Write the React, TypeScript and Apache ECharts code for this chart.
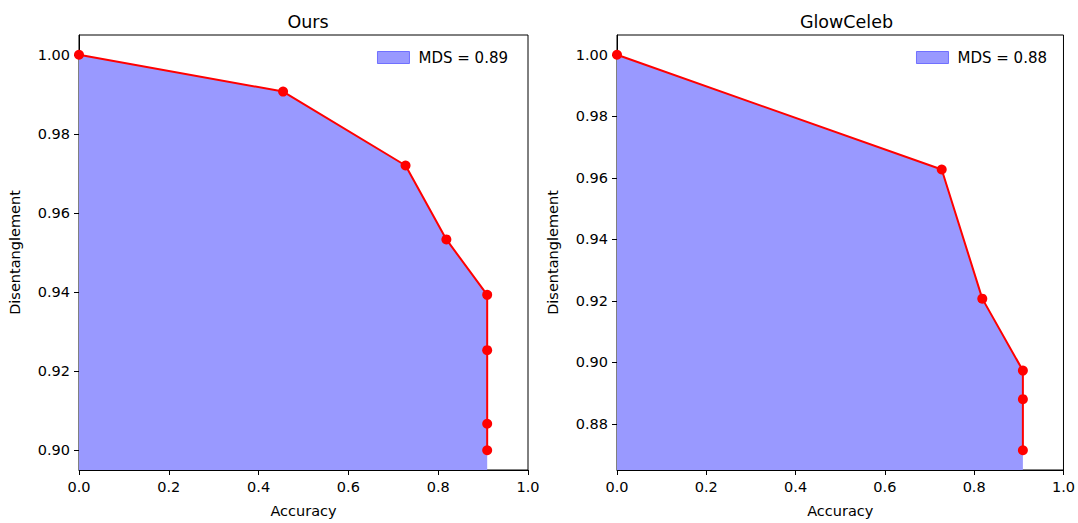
import React, { useEffect, useRef } from "react";
import * as echarts from "echarts";

const titles = ["Ours", "GlowCeleb"];
const legendNames = ["MDS = 0.89", "MDS = 0.88"];
const oursX = [0, 0.4545, 0.7273, 0.8182, 0.9091, 0.9091, 0.9091, 0.9091];
const oursY = [1.0, 0.9907, 0.972, 0.9533, 0.9393, 0.9253, 0.9067, 0.9];
const glowX = [0, 0.7273, 0.8182, 0.9091, 0.9091, 0.9091];
const glowY = [1.0, 0.9627, 0.9207, 0.8973, 0.888, 0.8714];
const xTicks = [0, 0.2, 0.4, 0.6, 0.8, 1.0];
const oursYTicks = [0.9, 0.92, 0.94, 0.96, 0.98, 1.0];
const glowYTicks = [0.88, 0.9, 0.92, 0.94, 0.96, 0.98, 1.0];

const FONT = "DejaVu Sans";
const FS = 14.5;

function pairs(xs: number[], ys: number[]) {
  return xs.map((x, i) => [x, ys[i]]);
}

function yRange(ys: number[]) {
  const lo = Math.min(...ys);
  const hi = Math.max(...ys);
  const m = (hi - lo) * 0.05;
  return [lo - m, hi + m];
}

export default function App() {
  const ref = useRef<HTMLDivElement>(null);
  useEffect(() => {
    if (!ref.current) return;
    const chart = echarts.init(ref.current, null, { renderer: "svg" });
    const grids = [
      { left: 79, right: 550, top: 35, bottom: 51 },
      { left: 617, right: 12, top: 35, bottom: 51 },
    ];
    const ranges = [yRange(oursY), yRange(glowY)];
    const yTickSets = [oursYTicks, glowYTicks];
    const datas = [pairs(oursX, oursY), pairs(glowX, glowY)];
    const centers = [303, 841.5];

    const option: any = {
      animation: false,
      backgroundColor: "#ffffff",
      title: titles.map((t, i) => ({
        text: t,
        left: centers[i],
        top: 8,
        textAlign: "center",
        textStyle: { fontFamily: FONT, fontSize: 17.5, fontWeight: "normal", color: "#000" },
      })),
      grid: grids.map((g) => ({
        ...g,
        show: true,
        borderColor: "#000",
        borderWidth: 1,
        backgroundColor: "transparent",
      })),
      legend: legendNames.map((n, i) => ({
        gridIndex: i,
        data: [
          {
            name: n,
            icon: "rect",
            itemStyle: {
              color: "rgba(0,0,255,0.4)",
              borderColor: "rgba(0,0,255,0.45)",
              borderWidth: 1,
            },
          },
        ],
        right: i === 0 ? 565 : 26,
        top: 45,
        itemWidth: 32,
        itemHeight: 12,
        itemGap: 8,
        textStyle: { fontFamily: FONT, fontSize: 15, color: "#000", padding: [0, 0, 0, 4] },
        selectedMode: false,
      })),
      xAxis: [0, 1].map((i) => ({
        type: "value",
        gridIndex: i,
        min: 0,
        max: 1,
        interval: 0.2,
        name: "Accuracy",
        nameLocation: "middle",
        nameGap: 33,
        nameTextStyle: { fontFamily: FONT, fontSize: FS, color: "#000" },
        axisLine: { show: true, lineStyle: { color: "#000", width: 1 } },
        axisTick: { show: true, inside: false, length: 5, lineStyle: { color: "#000" } },
        axisLabel: {
          fontFamily: FONT,
          fontSize: FS,
          color: "#000",
          margin: 9,
          formatter: (v: number) => v.toFixed(1),
        },
        splitLine: { show: false },
      })),
      yAxis: [0, 1].map((i) => ({
        type: "value",
        gridIndex: i,
        min: ranges[i][0],
        max: ranges[i][1],
        name: "Disentanglement",
        nameLocation: "middle",
        nameGap: 57,
        nameRotate: 90,
        nameTextStyle: { fontFamily: FONT, fontSize: FS, color: "#000" },
        axisLine: { show: true, lineStyle: { color: "#000", width: 1 } },
        axisTick: {
          show: true,
          inside: false,
          length: 5,
          lineStyle: { color: "#000" },
          customValues: yTickSets[i],
        },
        axisLabel: {
          fontFamily: FONT,
          fontSize: FS,
          color: "#000",
          margin: 9,
          customValues: yTickSets[i],
          formatter: (v: number) => v.toFixed(2),
        },
        splitLine: { show: false },
      })),
      series: [0, 1].map((i) => ({
        type: "line",
        name: legendNames[i],
        xAxisIndex: i,
        yAxisIndex: i,
        data: datas[i],
        symbol: "circle",
        symbolSize: 10,
        showAllSymbol: true,
        clip: false,
        itemStyle: { color: "#ff0000" },
        lineStyle: { color: "#ff0000", width: 2 },
        areaStyle: { color: "#9999ff", opacity: 1, origin: "start" },
      })),
    };
    chart.setOption(option);
    return () => chart.dispose();
  }, []);
  return (
    <div
      ref={ref}
      style={{ position: "fixed", left: 0, top: 0, width: 1078, height: 523, background: "#fff" }}
    />
  );
}
